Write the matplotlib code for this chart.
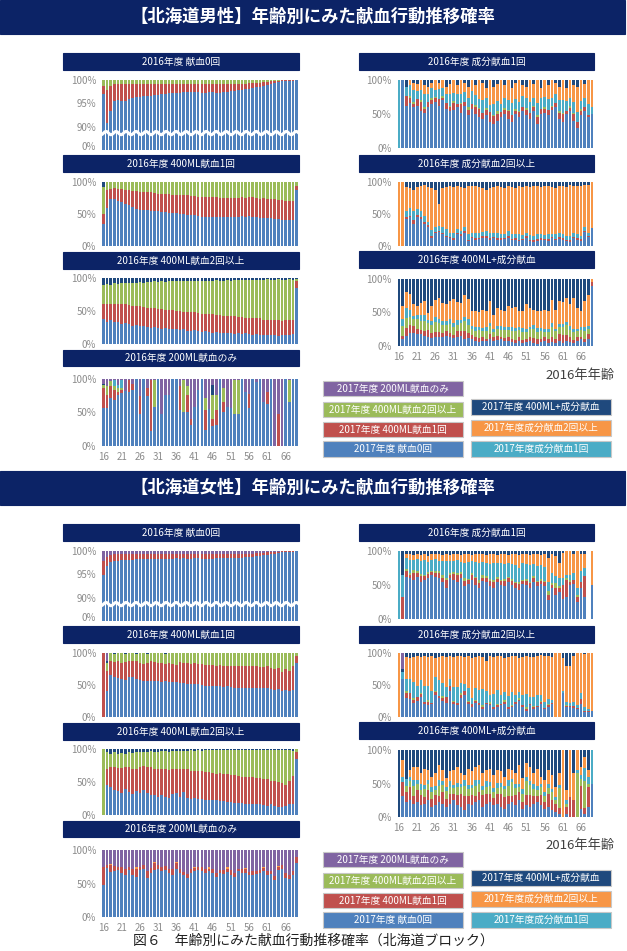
import numpy as np
import matplotlib.pyplot as plt
from matplotlib.patches import Rectangle

plt.rcParams['font.family'] = ['Noto Sans CJK JP', 'DejaVu Sans']

W, H = 627, 951
NAVY_BAR = '#0c2366'
TICK_GREY = '#8c8c8c'

ages = list(range(16, 70))
tick_ages = [16, 21, 26, 31, 36, 41, 46, 51, 56, 61, 66]

# 2017 behaviour categories, stacking order bottom -> top
stack_keys = ['none', 'ml400_1', 'ml400_2', 'comp_1', 'comp_2', 'mix', 'ml200']
stack_colors = {'none': '#4F81BD', 'ml400_1': '#C0504D', 'ml400_2': '#9BBB59',
                'comp_1': '#4BACC6', 'comp_2': '#F79646', 'mix': '#1F497D',
                'ml200': '#8064A2'}
legend_left = [('ml200', '2017年度 200ML献血のみ'), ('ml400_2', '2017年度 400ML献血2回以上'),
               ('ml400_1', '2017年度 400ML献血1回'), ('none', '2017年度 献血0回')]
legend_right = [('mix', '2017年度 400ML+成分献血'), ('comp_2', '2017年度成分献血2回以上'),
                ('comp_1', '2017年度成分献血1回')]

titles_left = ['2016年度 献血0回', '2016年度 400ML献血1回', '2016年度 400ML献血2回以上', '2016年度 200ML献血のみ']
titles_right = ['2016年度 成分献血1回', '2016年度 成分献血2回以上', '2016年度 400ML+成分献血']

# ---------------- male (percent per age 16..69) ----------------
m_zero_blue = [97.0, 90.8, 93.3, 95.5, 95.7, 95.5, 95.6, 96.0, 96.2, 96.3,
               96.4, 96.5, 96.6, 96.7, 96.8, 96.9, 97.0, 97.1, 97.2, 97.2,
               97.3, 97.3, 97.4, 97.4, 97.4, 97.4, 97.4, 97.3, 97.3, 97.4,
               97.4, 97.3, 97.3, 97.4, 97.5, 97.6, 97.7, 97.8, 97.9, 98.0,
               98.1, 98.3, 98.5, 98.6, 98.8, 99.0, 99.2, 99.3, 99.6, 99.7,
               99.8, 99.8, 99.8, 99.9]
m_zero_red = [1.8, 7.0, 5.4, 3.6, 3.4, 3.6, 3.5, 3.1, 2.9, 2.8,
              2.7, 2.6, 2.5, 2.4, 2.3, 2.2, 2.1, 2.0, 1.9, 1.9,
              1.8, 1.8, 1.7, 1.7, 1.7, 1.7, 1.7, 1.8, 1.8, 1.7,
              1.7, 1.8, 1.8, 1.7, 1.6, 1.5, 1.5, 1.4, 1.3, 1.2,
              1.2, 1.0, 0.9, 0.8, 0.7, 0.6, 0.5, 0.4, 0.2, 0.2,
              0.1, 0.1, 0.1, 0.0]

m_400one_blue = [34, 59, 74, 73, 70, 68, 65, 64, 61, 58,
                 57, 57, 56, 55, 55, 54, 53, 53, 52, 51,
                 51, 50, 50, 49, 48, 48, 47, 46, 46, 46,
                 46, 45, 45, 45, 45, 45, 45, 46, 47, 46,
                 47, 46, 45, 43, 44, 43, 43, 42, 42, 41,
                 41, 41, 41, 88]
m_400one_red = [16, 29, 15, 17, 19, 21, 23, 24, 25, 28,
                28, 28, 29, 29, 28, 28, 29, 28, 29, 29,
                29, 29, 29, 30, 30, 30, 30, 31, 31, 30,
                30, 31, 30, 30, 30, 30, 30, 29, 29, 29,
                30, 30, 30, 31, 31, 31, 30, 31, 30, 31,
                29, 29, 29, 6]
m_400one_navy = {16: 8}

m_400two_blue = [38, 34, 36, 33, 34, 31, 32, 30, 28, 29,
                 27, 28, 26, 25, 26, 24, 23, 24, 22, 23,
                 22, 21, 22, 20, 19, 21, 19, 18, 19, 18,
                 17, 18, 17, 16, 17, 16, 15, 16, 15, 16,
                 15, 14, 15, 14, 13, 14, 13, 14, 12, 13,
                 14, 13, 15, 85]
m_400two_red = [22, 26, 25, 28, 27, 30, 28, 29, 30, 28,
                30, 28, 29, 30, 28, 29, 30, 28, 29, 28,
                28, 29, 27, 28, 29, 27, 28, 27, 26, 27,
                28, 26, 27, 26, 25, 26, 27, 25, 26, 24,
                25, 25, 24, 25, 24, 23, 24, 23, 24, 22,
                22, 23, 22, 10]
m_400two_navy = [10, 9, 10, 8, 9, 8, 7, 8, 7, 7,
                 6, 7, 6, 6, 5, 6, 5, 6, 5, 5,
                 5, 4, 5, 5, 4, 5, 4, 4, 4, 4,
                 4, 3, 4, 4, 3, 4, 3, 3, 3, 3,
                 3, 3, 3, 3, 3, 2, 3, 3, 2, 3,
                 3, 2, 3, 2]

m_200_blue = [56, 56, 71, 68, 76, 79, 82, 81, 84, 100,
              48, 100, 74, 23, 58, 100, 48, 76, 76, 100,
              100, 53, 51, 51, 32, 58, 84, 100, 24, 55,
              30, 31, 100, 51, 58, 56, 48, 48, 100, 81,
              56, 100, 96, 100, 66, 63, 100, 0, 0, 0,
              100, 65, 100, 100]
m_200_red = [30, 20, 18, 16, 5, 4, 0, 18, 8, 0,
             26, 0, 12, 76, 0, 0, 0, 0, 0, 0,
             0, 36, 0, 25, 8, 0, 0, 0, 29, 0,
             11, 22, 0, 14, 0, 0, 0, 0, 0, 0,
             21, 0, 0, 0, 0, 18, 0, 0, 48, 0,
             0, 0, 0, 0]
m_200_green = [5, 13, 8, 5, 5, 4, 0, 0, 0, 0,
               0, 0, 0, 0, 41, 0, 0, 0, 0, 0,
               0, 0, 48, 13, 0, 0, 0, 0, 18, 0,
               35, 23, 0, 21, 0, 0, 51, 51, 0, 0,
               0, 0, 0, 0, 0, 0, 0, 0, 0, 0,
               0, 34, 0, 0]
m_200_cyan = {19: 10, 20: 5, 21: 11}
m_200_navy = {16: 1, 46: 15}

m_comp1_blue = [0, 100, 62, 66, 60, 62, 55, 52, 60, 65,
                68, 62, 70, 58, 55, 56, 60, 52, 62, 48,
                58, 50, 45, 42, 48, 38, 35, 40, 45, 50,
                42, 38, 50, 45, 55, 48, 42, 55, 35, 50,
                52, 48, 56, 60, 42, 38, 50, 55, 40, 30,
                48, 55, 45, 50]
m_comp1_red = [0, 0, 15, 8, 5, 10, 12, 6, 8, 5,
               5, 10, 3, 8, 5, 10, 4, 12, 5, 8,
               6, 10, 12, 10, 8, 15, 12, 10, 8, 6,
               12, 10, 5, 8, 6, 8, 10, 5, 10, 8,
               5, 8, 4, 6, 10, 12, 5, 4, 10, 8,
               6, 5, 4, 0]
m_comp1_green = [0, 0, 0, 3, 2, 0, 3, 2, 0, 4,
                 2, 0, 3, 0, 2, 3, 0, 2, 0, 5,
                 0, 3, 2, 0, 3, 0, 2, 4, 0, 3,
                 2, 0, 3, 2, 0, 3, 0, 2, 3, 0,
                 4, 0, 2, 0, 3, 2, 0, 3, 2, 0,
                 3, 0, 0, 0]
m_comp1_cyan = [100, 0, 13, 15, 18, 12, 15, 20, 12, 14,
                10, 15, 12, 14, 18, 12, 16, 14, 15, 12,
                20, 15, 13, 18, 14, 10, 16, 15, 12, 14,
                15, 18, 14, 12, 15, 14, 16, 12, 18, 15,
                14, 16, 12, 13, 15, 18, 14, 12, 16, 15,
                12, 14, 15, 10]
m_comp1_navy = [0, 0, 10, 0, 5, 6, 0, 8, 10, 4,
                0, 5, 0, 10, 6, 0, 8, 0, 5, 10,
                0, 8, 0, 5, 12, 0, 10, 6, 0, 8,
                0, 12, 5, 0, 8, 10, 0, 6, 0, 12,
                0, 8, 0, 5, 10, 0, 12, 0, 8, 10,
                0, 6, 0, 0]

m_comp2_blue = [0, 0, 42, 45, 35, 45, 42, 35, 30, 12,
                20, 22, 18, 14, 12, 10, 18, 16, 20, 8,
                12, 10, 11, 13, 12, 10, 12, 10, 10, 11,
                12, 9, 10, 8, 9, 12, 8, 7, 8, 10,
                9, 8, 12, 9, 11, 10, 8, 7, 12, 10,
                8, 22, 14, 28]
m_comp2_red = [0, 0, 3, 2, 5, 3, 3, 2, 3, 3,
               2, 2, 3, 2, 2, 2, 3, 2, 3, 2,
               2, 3, 2, 2, 3, 2, 2, 3, 2, 2,
               3, 2, 3, 2, 2, 3, 2, 2, 3, 2,
               2, 3, 2, 2, 3, 2, 2, 3, 2, 2,
               3, 2, 2, 0]
m_comp2_cyan = [0, 0, 10, 12, 15, 10, 10, 10, 5, 10,
                8, 8, 8, 10, 6, 8, 5, 6, 6, 8,
                6, 8, 8, 7, 8, 9, 7, 8, 7, 6,
                8, 7, 6, 8, 6, 5, 7, 6, 8, 7,
                6, 7, 5, 8, 6, 7, 6, 5, 6, 7,
                5, 6, 5, 0]
m_comp2_navy = [0, 0, 8, 10, 12, 8, 6, 5, 8, 10,
                12, 35, 10, 8, 7, 8, 6, 8, 10, 6,
                7, 6, 8, 10, 12, 9, 8, 7, 8, 10,
                6, 8, 9, 7, 8, 6, 8, 7, 6, 8,
                7, 6, 8, 9, 7, 6, 8, 5, 6, 7,
                6, 5, 4, 0]

m_mix_blue = [0, 10, 15, 20, 20, 18, 18, 15, 14, 12,
              14, 13, 14, 15, 13, 12, 14, 15, 10, 12,
              10, 8, 6, 8, 7, 10, 8, 9, 10, 7,
              8, 6, 5, 8, 4, 6, 7, 5, 3, 6,
              8, 5, 6, 5, 8, 5, 7, 6, 4, 8,
              10, 6, 10, 90]
m_mix_red = [0, 5, 12, 12, 10, 8, 6, 8, 10, 8,
             7, 8, 6, 7, 6, 5, 8, 7, 12, 8,
             6, 5, 6, 5, 4, 8, 5, 6, 4, 5,
             6, 5, 4, 6, 5, 5, 6, 7, 8, 4,
             5, 6, 8, 5, 10, 12, 10, 8, 5, 6,
             4, 5, 8, 5]
m_mix_green = [0, 15, 15, 12, 10, 14, 14, 15, 10, 12,
               15, 13, 12, 10, 14, 12, 10, 12, 15, 12,
               10, 10, 12, 10, 12, 12, 8, 10, 10, 12,
               10, 12, 14, 10, 12, 10, 12, 14, 10, 12,
               8, 10, 14, 12, 10, 12, 14, 10, 12, 8,
               10, 12, 8, 0]
m_mix_cyan = [0, 10, 15, 10, 5, 6, 8, 8, 5, 6,
              8, 7, 6, 5, 8, 6, 7, 5, 6, 8,
              4, 6, 5, 4, 6, 5, 4, 5, 6, 4,
              5, 6, 4, 5, 6, 5, 4, 5, 6, 5,
              4, 5, 6, 4, 5, 4, 5, 6, 4, 3,
              5, 6, 4, 0]
m_mix_navy = [100, 41, 20, 22, 38, 41, 36, 33, 51, 41,
              31, 28, 36, 38, 33, 30, 34, 36, 24, 30,
              48, 48, 49, 46, 48, 33, 53, 43, 46, 48,
              41, 43, 42, 48, 48, 38, 43, 46, 48, 48,
              47, 48, 31, 47, 33, 34, 28, 38, 28, 43,
              48, 33, 24, 0]

# ---------------- female ----------------
f_zero_blue = [94.8, 96.8, 97.6, 97.8, 97.9, 98.0, 98.0, 98.1, 98.1, 98.2,
               98.2, 98.2, 98.3, 98.3, 98.3, 98.4, 98.4, 98.4, 98.4, 98.4,
               98.5, 98.4, 98.5, 98.3, 98.4, 98.5, 98.5, 98.4, 98.4, 98.4,
               98.4, 98.5, 98.5, 98.5, 98.5, 98.5, 98.5, 98.6, 98.6, 98.7,
               98.8, 98.8, 98.9, 99.0, 99.1, 99.2, 99.3, 99.4, 99.5, 99.7,
               99.8, 99.8, 99.8, 99.9]
f_zero_red = [3.0, 1.9, 1.6, 1.5, 1.4, 1.3, 1.3, 1.2, 1.2, 1.1,
              1.1, 1.1, 1.0, 1.0, 1.0, 0.9, 0.9, 0.9, 0.9, 0.9,
              0.8, 0.9, 0.8, 1.0, 0.9, 0.8, 0.8, 0.9, 0.9, 0.9,
              0.9, 0.8, 0.8, 0.8, 0.8, 0.8, 0.8, 0.7, 0.7, 0.7,
              0.6, 0.6, 0.6, 0.5, 0.5, 0.5, 0.4, 0.4, 0.3, 0.2,
              0.1, 0.1, 0.1, 0.0]

f_400one_blue = [0, 40, 65, 62, 61, 60, 58, 63, 62, 60,
                 58, 57, 57, 56, 57, 56, 55, 56, 54, 54,
                 54, 53, 53, 52, 52, 51, 51, 50, 49, 48,
                 49, 48, 49, 47, 48, 47, 46, 46, 45, 45,
                 45, 45, 46, 45, 45, 46, 44, 42, 43, 40,
                 42, 40, 42, 85]
f_400one_red = [100, 32, 22, 24, 26, 25, 28, 25, 25, 27,
                27, 26, 28, 31, 29, 28, 30, 27, 30, 29,
                27, 33, 31, 32, 31, 33, 32, 33, 33, 34,
                32, 32, 32, 32, 32, 32, 33, 33, 35, 34,
                34, 34, 33, 33, 33, 33, 33, 33, 34, 30,
                33, 32, 37, 10]
f_400one_navy = {17: 4, 19: 2, 22: 2, 25: 2, 28: 2, 33: 2}
f_400one_purple = {17: 12}

f_400two_blue = [0, 45, 43, 38, 36, 33, 40, 35, 32, 36,
                 34, 38, 33, 30, 30, 28, 30, 27, 26, 32,
                 33, 28, 35, 26, 25, 26, 24, 24, 23, 22,
                 23, 22, 21, 21, 20, 20, 18, 18, 18, 17,
                 17, 16, 17, 16, 15, 14, 16, 13, 12, 12,
                 13, 16, 17, 85]
f_400two_red = [0, 25, 30, 35, 35, 38, 33, 37, 38, 34,
                38, 37, 40, 42, 40, 42, 40, 43, 42, 38,
                36, 42, 35, 43, 42, 40, 43, 42, 42, 43,
                41, 40, 42, 41, 42, 40, 43, 41, 40, 41,
                40, 42, 39, 40, 40, 41, 36, 38, 38, 36,
                32, 36, 42, 10]
f_400two_navy = [0, 5, 7, 5, 8, 6, 7, 5, 6, 5,
                 5, 4, 4, 3, 4, 4, 3, 3, 4, 3,
                 3, 3, 3, 3, 2, 3, 2, 3, 2, 2,
                 2, 2, 2, 2, 2, 2, 2, 2, 2, 2,
                 2, 2, 2, 2, 2, 2, 2, 2, 2, 2,
                 2, 2, 3, 0]

f_200_blue = [48, 73, 67, 68, 70, 66, 62, 70, 62, 60,
              70, 72, 58, 65, 70, 72, 68, 70, 66, 63,
              72, 66, 62, 58, 66, 68, 70, 68, 66, 68,
              65, 60, 66, 64, 67, 62, 60, 68, 66, 65,
              62, 63, 64, 66, 68, 62, 64, 55, 70, 72,
              58, 56, 62, 80]
f_200_red = [27, 5, 10, 8, 5, 8, 10, 5, 10, 12,
             4, 6, 10, 8, 10, 5, 6, 6, 5, 8,
             8, 6, 5, 6, 5, 5, 4, 6, 5, 4,
             6, 5, 4, 6, 5, 8, 5, 4, 5, 6,
             5, 6, 5, 4, 5, 6, 5, 6, 4, 5,
             8, 6, 6, 10]
f_200_orange = {18: 2, 25: 2, 30: 2, 36: 2, 41: 2, 45: 2, 50: 2, 55: 2, 60: 2, 64: 2}

f_comp1_blue = [0, 0, 62, 60, 58, 62, 55, 58, 60, 65,
                62, 60, 55, 45, 60, 58, 55, 60, 48, 52,
                58, 50, 45, 56, 55, 48, 45, 55, 50, 48,
                55, 50, 45, 42, 52, 50, 45, 55, 48, 52,
                48, 28, 45, 35, 40, 30, 33, 50, 52, 25,
                45, 33, 0, 50]
f_comp1_red = [0, 33, 8, 5, 10, 6, 8, 5, 6, 4,
               5, 8, 6, 12, 5, 8, 10, 6, 8, 5,
               6, 10, 8, 5, 6, 8, 10, 4, 6, 8,
               5, 6, 8, 10, 4, 6, 8, 5, 6, 4,
               6, 8, 5, 10, 6, 20, 25, 4, 5, 8,
               10, 30, 0, 0]
f_comp1_green = [0, 0, 3, 2, 4, 2, 3, 2, 3, 2,
                 3, 2, 4, 3, 2, 3, 2, 3, 4, 2,
                 3, 2, 4, 3, 2, 3, 2, 3, 2, 3,
                 2, 3, 2, 3, 2, 3, 2, 3, 2, 3,
                 2, 5, 3, 8, 2, 0, 2, 3, 0, 2,
                 0, 0, 0, 0]
f_comp1_cyan = [100, 32, 17, 20, 15, 18, 20, 22, 15, 16,
                18, 15, 20, 25, 18, 17, 20, 15, 22, 25,
                18, 22, 25, 20, 20, 22, 25, 20, 24, 22,
                20, 22, 25, 20, 24, 22, 25, 18, 22, 20,
                20, 14, 15, 10, 12, 10, 5, 8, 10, 10,
                15, 12, 0, 0]
f_comp1_navy = [0, 35, 5, 5, 6, 4, 6, 5, 8, 4,
                5, 4, 6, 5, 6, 4, 5, 6, 4, 5,
                6, 4, 5, 4, 6, 5, 4, 6, 5, 4,
                6, 5, 4, 6, 5, 4, 6, 5, 4, 6,
                5, 10, 4, 8, 18, 3, 0, 0, 5, 0,
                4, 5, 0, 0]
f_comp1_missing = [68]

f_comp2_blue = [0, 60, 30, 28, 22, 25, 32, 20, 18, 20,
                35, 30, 25, 22, 40, 20, 18, 30, 35, 20,
                15, 22, 18, 12, 20, 18, 12, 15, 18, 20,
                12, 15, 20, 25, 15, 10, 18, 12, 15, 20,
                12, 15, 20, 0, 0, 38, 15, 15, 14, 12,
                20, 8, 8, 10]
f_comp2_red = [0, 0, 8, 10, 5, 6, 4, 3, 6, 2,
               4, 3, 5, 10, 8, 3, 4, 5, 6, 3,
               5, 3, 4, 3, 2, 3, 4, 3, 2, 4,
               3, 2, 3, 2, 4, 3, 2, 3, 2, 3,
               2, 3, 2, 0, 0, 0, 2, 2, 3, 2,
               8, 2, 2, 0]
f_comp2_green = [0, 0, 2, 0, 3, 0, 2, 0, 2, 0,
                 2, 0, 3, 0, 0, 2, 0, 3, 0, 2,
                 0, 2, 0, 3, 0, 2, 0, 2, 0, 3,
                 0, 2, 0, 2, 0, 3, 0, 2, 0, 2,
                 0, 2, 0, 0, 0, 0, 2, 0, 0, 0,
                 0, 0, 0, 0]
f_comp2_cyan = [0, 10, 20, 22, 25, 18, 20, 25, 22, 18,
                22, 25, 20, 15, 12, 22, 25, 15, 10, 20,
                10, 18, 20, 25, 18, 12, 20, 22, 15, 12,
                18, 20, 12, 10, 15, 20, 12, 15, 18, 10,
                10, 8, 5, 0, 0, 2, 5, 5, 6, 5,
                10, 5, 3, 0]
f_comp2_navy = [0, 5, 6, 8, 6, 5, 7, 5, 6, 5,
                8, 6, 5, 7, 5, 6, 5, 4, 6, 5,
                8, 6, 5, 7, 12, 5, 6, 4, 5, 8,
                6, 5, 4, 8, 6, 5, 7, 6, 4, 3,
                4, 5, 6, 0, 0, 8, 20, 20, 4, 0,
                0, 2, 0, 0]
f_comp2_purple = {17: 25}

f_mix_blue = [0, 32, 22, 25, 20, 22, 18, 20, 25, 15,
              18, 22, 20, 15, 20, 25, 18, 15, 10, 20,
              18, 22, 25, 15, 20, 22, 18, 20, 15, 12,
              20, 22, 18, 25, 12, 18, 15, 20, 22, 18,
              12, 15, 10, 8, 5, 0, 5, 0, 0, 0,
              12, 5, 15, 50]
f_mix_red = [0, 20, 15, 20, 12, 18, 15, 10, 15, 12,
             15, 10, 18, 12, 15, 10, 15, 20, 22, 12,
             15, 10, 12, 18, 15, 12, 10, 15, 20, 18,
             12, 10, 15, 12, 10, 15, 18, 12, 10, 15,
             10, 20, 15, 12, 8, 0, 10, 30, 25, 0,
             35, 8, 30, 0]
f_mix_green = [0, 0, 10, 8, 15, 10, 8, 12, 10, 10,
               8, 15, 10, 12, 10, 8, 12, 10, 15, 10,
               10, 15, 12, 8, 10, 12, 10, 8, 10, 12,
               15, 20, 10, 8, 12, 20, 15, 10, 8, 12,
               10, 8, 12, 5, 30, 0, 5, 0, 0, 65,
               10, 40, 5, 0]
f_mix_cyan = [0, 8, 10, 6, 8, 5, 8, 6, 5, 8,
              6, 8, 5, 6, 8, 5, 6, 5, 8, 6,
              5, 8, 6, 5, 8, 6, 5, 8, 6, 5,
              8, 5, 6, 5, 8, 6, 5, 8, 6, 5,
              5, 6, 5, 5, 5, 0, 5, 0, 0, 5,
              5, 20, 10, 50]
f_mix_navy = [100, 15, 50, 30, 25, 25, 35, 28, 30, 40,
              35, 22, 30, 42, 32, 30, 25, 35, 38, 28,
              32, 25, 22, 35, 30, 28, 38, 30, 32, 40,
              28, 30, 35, 22, 42, 20, 25, 35, 28, 40,
              45, 30, 38, 55, 35, 0, 60, 0, 35, 0,
              25, 10, 30, 0]


def as_list(v):
    if isinstance(v, dict):
        out = [0.0] * len(ages)
        for age, val in v.items():
            out[age - ages[0]] = val
        return out
    return v


def fig_rect(x0, y0, x1, y1):
    return [x0 / W, 1 - y1 / H, (x1 - x0) / W, (y1 - y0) / H]


def label_box(fig, x0, y0, x1, y1, color, text, size, bold=False, edge=None):
    fig.add_artist(Rectangle((x0 / W, 1 - y1 / H), (x1 - x0) / W, (y1 - y0) / H,
                             transform=fig.transFigure, facecolor=color,
                             edgecolor=edge or color, linewidth=0.8))
    fig.text((x0 + x1) / 2 / W, 1 - (y0 + y1) / 2 / H, text, color='white',
             ha='center', va='center', fontsize=size,
             fontweight='bold' if bold else 'normal')


def draw_panel(fig, rect, series, rest, broken=False, show_x=False, missing=()):
    ax = fig.add_axes(fig_rect(*rect))
    vals = {k: np.array(as_list(v), dtype=float) for k, v in series.items()}
    for k, v in vals.items():
        assert len(v) == len(ages), k
    vals[rest] = np.clip(100 - sum(vals.values()), 0, None)
    for a in missing:
        for k in vals:
            vals[k][a - ages[0]] = 0
    x = np.arange(len(ages))
    bottom = np.zeros(len(ages))
    for k in stack_keys:
        if k in vals:
            ax.bar(x, vals[k], bottom=bottom, width=0.72, color=stack_colors[k], linewidth=0)
            bottom += vals[k]
    ax.set_xlim(-0.5, len(ages) - 0.5)
    if broken:
        ax.set_ylim(85.1, 100)
        ax.set_yticks([86, 90, 95, 100])
        ax.set_yticklabels(['0%', '90%', '95%', '100%'])
        # axis break marker
        wx = np.linspace(-0.5, len(ages) - 0.5, 600)
        ax.plot(wx, 88.7 + 0.35 * np.sin(2 * np.pi * wx / 2.75), color='white', lw=2.2)
    else:
        ax.set_ylim(0, 100)
        ax.set_yticks([0, 50, 100])
        ax.set_yticklabels(['0%', '50%', '100%'])
    if show_x:
        ax.set_xticks([a - ages[0] for a in tick_ages])
        ax.set_xticklabels([str(a) for a in tick_ages])
    else:
        ax.set_xticks([])
    ax.tick_params(length=0, labelsize=7, colors=TICK_GREY, pad=4)
    for s in ax.spines.values():
        s.set_visible(False)
    return ax


fig = plt.figure(figsize=(W / 100, H / 100), dpi=100)
fig.patch.set_facecolor('white')

sections = [
    ('【北海道男性】年齢別にみた献血行動推移確率', 0,
     [dict(none=m_zero_blue, ml400_1=m_zero_red), dict(none=m_400one_blue, ml400_1=m_400one_red, mix=m_400one_navy),
      dict(none=m_400two_blue, ml400_1=m_400two_red, mix=m_400two_navy),
      dict(none=m_200_blue, ml400_1=m_200_red, ml400_2=m_200_green, comp_1=m_200_cyan, mix=m_200_navy)],
     ['ml400_2', 'ml400_2', 'ml400_2', 'ml200'],
     [dict(none=m_comp1_blue, ml400_1=m_comp1_red, ml400_2=m_comp1_green, comp_1=m_comp1_cyan, mix=m_comp1_navy),
      dict(none=m_comp2_blue, ml400_1=m_comp2_red, comp_1=m_comp2_cyan, mix=m_comp2_navy),
      dict(none=m_mix_blue, ml400_1=m_mix_red, ml400_2=m_mix_green, comp_1=m_mix_cyan, mix=m_mix_navy)],
     [[], [], []]),
    ('【北海道女性】年齢別にみた献血行動推移確率', 471,
     [dict(none=f_zero_blue, ml400_1=f_zero_red), dict(none=f_400one_blue, ml400_1=f_400one_red, mix=f_400one_navy, ml200=f_400one_purple),
      dict(none=f_400two_blue, ml400_1=f_400two_red, mix=f_400two_navy),
      dict(none=f_200_blue, ml400_1=f_200_red, comp_2=f_200_orange)],
     ['ml200', 'ml400_2', 'ml400_2', 'ml200'],
     [dict(none=f_comp1_blue, ml400_1=f_comp1_red, ml400_2=f_comp1_green, comp_1=f_comp1_cyan, mix=f_comp1_navy),
      dict(none=f_comp2_blue, ml400_1=f_comp2_red, ml400_2=f_comp2_green, comp_1=f_comp2_cyan, mix=f_comp2_navy, ml200=f_comp2_purple),
      dict(none=f_mix_blue, ml400_1=f_mix_red, ml400_2=f_mix_green, comp_1=f_mix_cyan, mix=f_mix_navy)],
     [f_comp1_missing, [], []]),
]

left_titles_y = [(53, 70), (155, 172), (252, 269), (350, 366)]
left_axes_y = [(80, 150), (182, 246), (278, 344), (379, 446)]
right_titles_y = [(53, 70), (155, 172), (251, 268)]
right_axes_y = [(80, 148), (182, 246), (279, 346)]
right_rests = ['comp_2', 'comp_2', 'comp_2']

for header, dy, left_series, left_rests, right_series, right_missing in sections:
    label_box(fig, 0, dy, 625, dy + 34, NAVY_BAR, header, 12.5, bold=True)
    for i, (title, ser, rest) in enumerate(zip(titles_left, left_series, left_rests)):
        ty0, ty1 = left_titles_y[i]
        label_box(fig, 63, ty0 + dy, 299, ty1 + dy, NAVY_BAR, title, 7)
        ay0, ay1 = left_axes_y[i]
        draw_panel(fig, (101.7, ay0 + dy, 298.3, ay1 + dy), ser, rest,
                   broken=(i == 0), show_x=(i == 3))
    for i, (title, ser, rest, miss) in enumerate(zip(titles_right, right_series, right_rests, right_missing)):
        ty0, ty1 = right_titles_y[i]
        label_box(fig, 359, ty0 + dy, 594, ty1 + dy, NAVY_BAR, title, 7)
        ay0, ay1 = right_axes_y[i]
        draw_panel(fig, (397.2, ay0 + dy, 593.8, ay1 + dy), ser, rest,
                   show_x=(i == 2), missing=miss)
    fig.text(580 / W, 1 - (375 + dy) / H, '2016年年齢', ha='center', va='center',
             fontsize=9.5, color='#404040')
    for (key, text), (y0, y1) in zip(legend_left, [(381, 396), (402, 417), (422, 437), (441, 457)]):
        label_box(fig, 323, y0 + dy, 463, y1 + dy, stack_colors[key], text, 7, edge='#c8c8c8')
    for (key, text), (y0, y1) in zip(legend_right, [(399, 415), (420, 436), (441, 457)]):
        label_box(fig, 471, y0 + dy, 611, y1 + dy, stack_colors[key], text, 7, edge='#c8c8c8')

fig.text(0.5, 1 - 941 / H, '図６　年齢別にみた献血行動推移確率（北海道ブロック）', ha='center', va='center',
         fontsize=10, color='#222222')

fig.savefig('out.png', dpi=100)
